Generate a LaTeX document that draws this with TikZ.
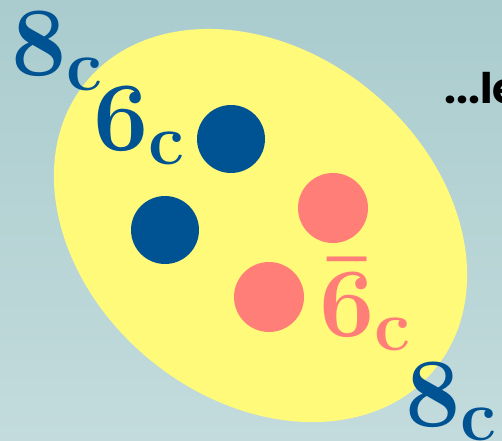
\RequirePackage{fix-cm}
\documentclass[tikz,border=0pt]{standalone}
\usepackage[no-math]{fontspec}
\newfontfamily\notefont{Poppins}
\usetikzlibrary{shapes.geometric}
\DeclareMathSizes{56}{56}{41}{30}

\definecolor{quarkblue}{RGB}{0,83,147}
\definecolor{antired}{RGB}{255,127,120}
\definecolor{bagyellow}{RGB}{255,250,122}
\definecolor{bgtop}{RGB}{170,204,206}
\definecolor{bgbottom}{RGB}{195,219,220}

\begin{document}
\begin{tikzpicture}[
x=0.02cm, y=0.02cm,
bag/.style={ellipse, fill=bagyellow, inner sep=0pt, minimum width=9.04cm, minimum height=6.96cm},
quark/.style={circle, fill=quarkblue, inner sep=0pt, minimum size=1.36cm},
antiquark/.style={circle, fill=antired, inner sep=0pt, minimum size=1.4cm},
rep/.style={inner sep=0pt, anchor=base west, font=\fontsize{56}{60}\selectfont},
note/.style={inner sep=0pt, anchor=base west, font=\notefont\bfseries\fontsize{24}{28}\selectfont}
]
\useasboundingbox (0,0) rectangle (502,440);
\shade[top color=bgtop, bottom color=bgbottom] (0,0) rectangle (502,440);

\node[bag, rotate=-39.4] (bag) at (260.5,214.5) {};

\node[quark] (quarkA) at (231,301) {};
\node[quark] (quarkB) at (165,210) {};
\node[antiquark] (antiA) at (333,232) {};
\node[antiquark] (antiB) at (269,143) {};

\node[rep, text=quarkblue] (octetTop) at (11,364) {$\mathbf{8}_\mathbf{c}$};
\node[rep, text=quarkblue] (sextet) at (93,290) {$\mathbf{6}_\mathbf{c}$};
\node[rep, text=antired] (antisextet) at (319,104) {$\mathbf{\bar{6}}_\mathbf{c}$};
\node[rep, text=quarkblue] (octetBottom) at (405,14) {$\mathbf{8}_\mathbf{c}$};

\node[note] (more) at (444,337) {...le};
\end{tikzpicture}
\end{document}
